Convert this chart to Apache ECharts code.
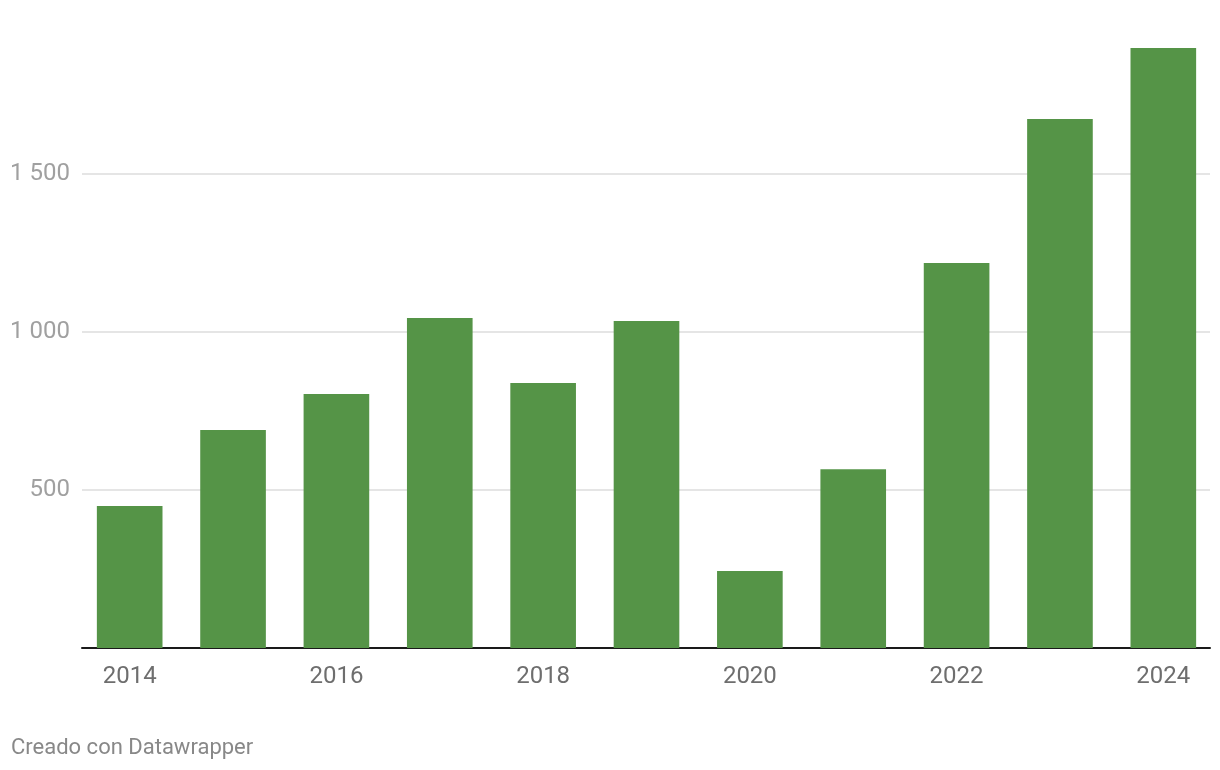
<!DOCTYPE html>
<html>
<head>
<meta charset="utf-8">
<script src="https://cdn.jsdelivr.net/npm/echarts@6/dist/echarts.min.js"></script>
<style>
html,body{margin:0;padding:0;background:#fff;}
#chart{width:1220px;height:770px;}
</style>
</head>
<body>
<div id="chart"></div>
<script>
const years = ['2014','2015','2016','2017','2018','2019','2020','2021','2022','2023','2024'];
const values = [449, 690, 804, 1044, 839, 1035, 244, 566, 1218, 1674, 1899];
const yTicks = [0, 500, 1000, 1500, 2000];
const footer = 'Creado con Datawrapper';

const chart = echarts.init(document.getElementById('chart'));
const fmt = v => String(v).replace(/\B(?=(\d{3})+(?!\d))/g, ' ');
chart.setOption({
  backgroundColor: '#ffffff',
  animation: false,
  textStyle: { fontFamily: 'Roboto' },
  title: {
    text: footer,
    left: 11, top: 737, padding: 0,
    textStyle: { fontFamily: 'Roboto', fontSize: 22, fontWeight: 'normal', color: '#888888' }
  },
  grid: [
    { left: 82, right: 10, top: 16, bottom: 122 },
    { left: 78, right: 5, top: 16, bottom: 122 }
  ],
  xAxis: [
    { type: 'category', gridIndex: 0, data: years,
      axisLine: { show: true, lineStyle: { color: '#1a1a1a', width: 2 } },
      axisTick: { show: false }, axisLabel: { show: false } },
    { type: 'category', gridIndex: 1, data: years,
      axisLine: { show: false }, axisTick: { show: false },
      axisLabel: { interval: 1, margin: 17, fontSize: 24, color: '#6e6e6e', fontFamily: 'Roboto' } }
  ],
  yAxis: [
    { type: 'value', gridIndex: 0, min: yTicks[0], max: yTicks[yTicks.length-1], interval: 500,
      axisLine: { show: false }, axisTick: { show: false },
      axisLabel: { showMinLabel: false, showMaxLabel: false, margin: 12, fontSize: 24, color: '#a0a0a0',
        fontFamily: 'Roboto', formatter: fmt },
      splitLine: { show: true, showMinLine: false, showMaxLine: false, lineStyle: { color: '#e5e5e5', width: 2 } } },
    { type: 'value', gridIndex: 1, min: yTicks[0], max: yTicks[yTicks.length-1], interval: 500, show: false,
      splitLine: { show: false } }
  ],
  series: [{
    type: 'bar', xAxisIndex: 1, yAxisIndex: 1, data: values,
    barCategoryGap: '36.5%',
    itemStyle: { color: '#559447' },
    z: 1
  }]
});
</script>
</body>
</html>
